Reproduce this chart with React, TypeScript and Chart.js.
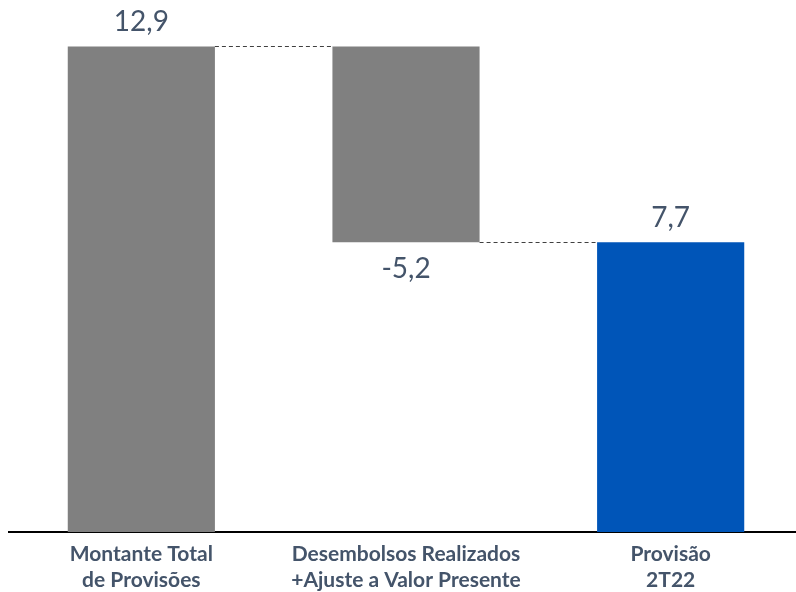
import React, { useEffect, useRef } from "react";
import { Chart, registerables } from "chart.js";

Chart.register(...registerables);

const categories: string[][] = [
  ["Montante Total", "de Provisões"],
  ["Desembolsos Realizados", "+Ajuste a Valor Presente"],
  ["Provisão", "2T22"],
];
const values: number[] = [12.9, -5.2, 7.7];
const valueLabels: string[] = ["12,9", "-5,2", "7,7"];
const kinds: string[] = ["total", "delta", "total"];
const barColors: string[] = ["#808080", "#808080", "#0055B8"];

const TEXT = "#44546A";
const FONT = "Lato, 'Open Sans', sans-serif";

export default function App() {
  const ref = useRef<HTMLCanvasElement | null>(null);

  useEffect(() => {
    if (!ref.current) return;
    // build floating ranges from the waterfall values
    let run = 0;
    const ranges: [number, number][] = values.map((v, i) => {
      if (kinds[i] === "total") {
        run = v;
        return [0, v];
      }
      const start = run;
      run = run + v;
      return [Math.min(start, run), Math.max(start, run)];
    });

    const overlay = {
      id: "overlay",
      afterDatasetsDraw(chart: any) {
        const ctx = chart.ctx;
        const meta = chart.getDatasetMeta(0);
        const y = chart.scales.y;
        ctx.save();
        // connectors
        ctx.strokeStyle = "#404040";
        ctx.lineWidth = 1;
        ctx.setLineDash([4, 3]);
        for (let i = 0; i < meta.data.length - 1; i++) {
          const a = meta.data[i] as any;
          const b = meta.data[i + 1] as any;
          const level = i === 0 ? ranges[0][1] : ranges[i][0];
          const ly = Math.round(y.getPixelForValue(level)) + 0.5;
          ctx.beginPath();
          ctx.moveTo(a.x + a.width / 2, ly);
          ctx.lineTo(b.x - b.width / 2, ly);
          ctx.stroke();
        }
        ctx.setLineDash([]);
        // value labels
        ctx.fillStyle = TEXT;
        ctx.font = `28px ${FONT}`;
        ctx.textAlign = "center";
        ctx.textBaseline = "middle";
        meta.data.forEach((el: any, i: number) => {
          if (values[i] >= 0) {
            ctx.fillText(valueLabels[i], el.x, y.getPixelForValue(ranges[i][1]) - 24);
          } else {
            ctx.fillText(valueLabels[i], el.x, y.getPixelForValue(ranges[i][0]) + 27);
          }
        });
        ctx.restore();
      },
    };

    const chart = new Chart(ref.current, {
      type: "bar",
      data: {
        labels: categories,
        datasets: [
          {
            data: ranges as any,
            backgroundColor: barColors,
            borderWidth: 0,
            categoryPercentage: 1,
            barPercentage: 0.556,
          },
        ],
      },
      options: {
        animation: false,
        responsive: false,
        maintainAspectRatio: false,
        layout: { padding: { left: 9, right: 0, top: 5, bottom: 0 } },
        plugins: {
          legend: { display: false },
          tooltip: { enabled: false },
        },
        scales: {
          x: {
            grid: { display: false, drawTicks: false },
            border: { display: true, color: "#000000", width: 2 },
            ticks: {
              color: TEXT,
              font: { family: FONT, size: 21, weight: "bold", lineHeight: 1.24 },
              padding: 9,
              maxRotation: 0,
              autoSkip: false,
            },
            afterFit(scale: any) {
              scale.height = 60;
            },
          },
          y: {
            display: false,
            min: 0,
            max: 14,
          },
        },
      },
      plugins: [overlay],
    });
    return () => chart.destroy();
  }, []);

  return (
    <div style={{ position: "fixed", left: 0, top: 0, width: 796, height: 592, overflow: "hidden", background: "#fff" }}>
      <canvas ref={ref} width={803} height={592} style={{ display: "block" }} />
    </div>
  );
}
